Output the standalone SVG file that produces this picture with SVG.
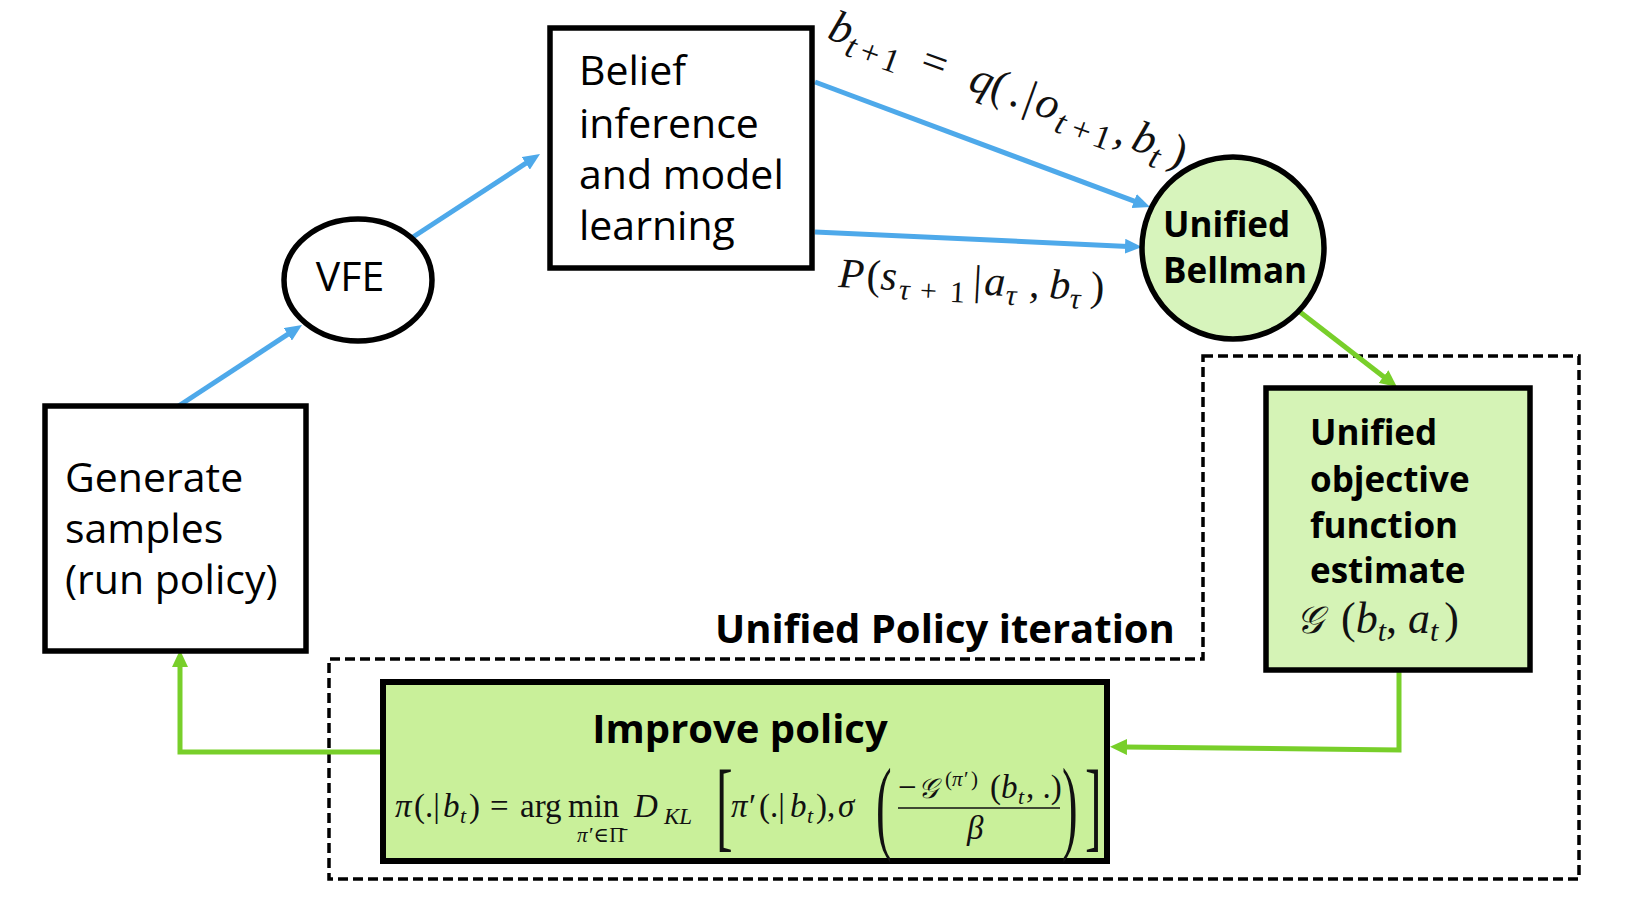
<svg xmlns="http://www.w3.org/2000/svg" width="1627" height="905" viewBox="0 0 1627 905">
<defs>
<style>
.r{font-family:"Open Sans","Liberation Sans",sans-serif;font-size:41px;fill:#000}
.b{font-family:"Open Sans","Liberation Sans",sans-serif;font-weight:bold;font-size:35px;fill:#000}
.m{font-family:"Liberation Serif","DejaVu Serif",serif;fill:#111}
.i{font-style:italic}
.box{stroke:#000;stroke-width:5.5}
.blue{fill:none;stroke:#4EA9EA;stroke-width:5}
.green{fill:none;stroke:#78CF2A;stroke-width:5}
.dash{fill:none;stroke:#000;stroke-width:3.5;stroke-dasharray:10 5}
</style>
<marker id="ab" markerUnits="userSpaceOnUse" markerWidth="18" markerHeight="15" refX="3" refY="7.5" orient="auto"><path d="M0,0 L17,7.5 L0,15 z" fill="#4EA9EA"/></marker>
<marker id="ag" markerUnits="userSpaceOnUse" markerWidth="18" markerHeight="16" refX="3" refY="8" orient="auto"><path d="M0,0 L17,8 L0,16 z" fill="#78CF2A"/></marker>
</defs>
<rect width="1627" height="905" fill="#fff"/>

<g id="policy-iteration-region">
<path class="dash" d="M1203,356 L1579,356 L1579,879 L329,879 L329,659 L1203,659 Z"/>
<text class="b" x="715" y="643" style="font-size:40px">Unified Policy iteration</text>
</g>

<g id="connectors">
<line class="blue" x1="177" y1="407" x2="290.3" y2="332.7" marker-end="url(#ab)"/>
<line class="blue" x1="413" y1="237" x2="528.3" y2="161.7" marker-end="url(#ab)"/>
<line class="blue" x1="815" y1="82" x2="1136.9" y2="202.1" marker-end="url(#ab)"/>
<line class="blue" x1="815" y1="232" x2="1128" y2="246.4" marker-end="url(#ab)"/>
<line class="green" x1="1300" y1="312" x2="1385.9" y2="378.4" marker-end="url(#ag)"/>
<polyline class="green" points="1399,671 1399,750 1124,747" marker-end="url(#ag)"/>
<polyline class="green" points="381,752 180,752 180,664" marker-end="url(#ag)"/>
</g>

<g id="label-belief-update" class="m" transform="translate(826,38) rotate(20)" font-size="45">
<text class="i" x="0" y="0">b</text>
<text font-size="34" y="10"><tspan class="i" x="22">t</tspan><tspan x="37">+</tspan><tspan x="60">1</tspan></text>
<text y="0"><tspan x="98">=</tspan><tspan class="i" x="150">q</tspan><tspan x="172">(</tspan><tspan x="193">.</tspan><tspan x="208">|</tspan><tspan class="i" x="220">o</tspan></text>
<text font-size="34" y="10"><tspan class="i" x="245">t</tspan><tspan x="262">+</tspan><tspan x="285">1</tspan></text>
<text y="0"><tspan x="305">,</tspan><tspan class="i" x="323">b</tspan></text>
<text class="i" font-size="34" x="345" y="10">t</text>
<text x="363" y="0">)</text>
</g>

<g id="label-transition" class="m" transform="translate(838,287) rotate(3)" font-size="42">
<text y="0"><tspan class="i" x="0">P</tspan><tspan x="28">(</tspan><tspan class="i" x="42">s</tspan></text>
<text font-size="30" y="9"><tspan class="i" x="61">τ</tspan><tspan x="82">+</tspan><tspan x="112">1</tspan></text>
<text y="0"><tspan x="135">|</tspan><tspan class="i" x="146">a</tspan></text>
<text class="i" font-size="30" x="168" y="9">τ</text>
<text y="0"><tspan x="191">,</tspan><tspan class="i" x="211">b</tspan></text>
<text class="i" font-size="30" x="232" y="9">τ</text>
<text x="252" y="0">)</text>
</g>

<g id="node-generate">
<rect class="box" x="45" y="406" width="261" height="245" fill="#fff"/>
<text class="r" x="65" y="492">Generate</text>
<text class="r" x="65" y="543">samples</text>
<text class="r" x="65" y="594">(run policy)</text>
</g>

<g id="node-vfe">
<ellipse class="box" cx="358" cy="280" rx="74" ry="61" fill="#fff"/>
<text class="r" x="350" y="291" text-anchor="middle">VFE</text>
</g>

<g id="node-belief">
<rect class="box" x="550" y="28" width="262" height="240" fill="#fff"/>
<text class="r" x="579" y="85">Belief</text>
<text class="r" x="579" y="138">inference</text>
<text class="r" x="579" y="189">and model</text>
<text class="r" x="579" y="240">learning</text>
</g>

<g id="node-bellman">
<circle class="box" cx="1233" cy="248" r="91" fill="#D7F4BC"/>
<text class="b" x="1163" y="237">Unified</text>
<text class="b" x="1163" y="283">Bellman</text>
</g>

<g id="node-objective">
<rect class="box" x="1266" y="388" width="264" height="282" fill="#D5F3B6"/>
<text class="b" x="1310" y="445">Unified</text>
<text class="b" x="1310" y="492">objective</text>
<text class="b" x="1310" y="538">function</text>
<text class="b" x="1310" y="583">estimate</text>
<text class="m" font-size="44" x="1296" y="633"><tspan class="i" font-size="38" style="letter-spacing:18px">𝒢</tspan>(<tspan class="i">b</tspan><tspan class="i" font-size="30" dy="8">t</tspan><tspan dy="-8">, </tspan><tspan class="i">a</tspan><tspan class="i" font-size="30" dy="8">t</tspan><tspan dy="-8" dx="6">)</tspan></text>
</g>

<g id="node-improve">
<rect class="box" x="383" y="682" width="724" height="179" fill="#C9F09A" style="stroke-width:6"/>
<text class="b" x="740" y="743" text-anchor="middle" style="font-size:40px">Improve policy</text>
<g class="m" font-size="33">
<text y="817"><tspan class="i" x="395">π</tspan><tspan x="414">(.|</tspan><tspan class="i" x="443">b</tspan></text>
<text class="i" font-size="22" x="460" y="823">t</text>
<text y="817"><tspan x="469">)</tspan><tspan x="490">=</tspan><tspan x="520">arg</tspan><tspan x="568">min</tspan></text>
<text font-size="21" y="842"><tspan class="i" x="577">π</tspan><tspan x="589">′∈Π̄</tspan></text>
<text class="i" x="634" y="817">D</text>
<text class="i" font-size="23" x="664" y="824">KL</text>
<text font-size="100" transform="translate(716,839) scale(0.5,1)">[</text>
<text y="817"><tspan class="i" x="731">π</tspan><tspan x="749">′</tspan><tspan x="759">(.|</tspan><tspan class="i" x="790">b</tspan></text>
<text class="i" font-size="22" x="807" y="823">t</text>
<text y="817"><tspan x="816">),</tspan><tspan class="i" x="838">σ</tspan></text>
<text font-size="104" transform="translate(876,840) scale(0.45,1)">(</text>
<text y="798"><tspan x="898">−</tspan><tspan class="i" x="918" font-size="28">𝒢</tspan></text>
<text font-size="21" y="786"><tspan x="945">(</tspan><tspan class="i" x="952">π</tspan><tspan x="964">′</tspan><tspan x="971">)</tspan></text>
<text y="798"><tspan x="990">(</tspan><tspan class="i" x="1001">b</tspan></text>
<text class="i" font-size="22" x="1018" y="804">t</text>
<text y="798"><tspan x="1026">, .)</tspan></text>
<line x1="898" y1="808" x2="1060" y2="808" stroke="#111" stroke-width="1.6"/>
<text class="i" x="967" y="839">β</text>
<text font-size="104" transform="translate(1062,840) scale(0.45,1)">)</text>
<text font-size="100" transform="translate(1085,839) scale(0.5,1)">]</text>
</g>
</g>
</svg>
